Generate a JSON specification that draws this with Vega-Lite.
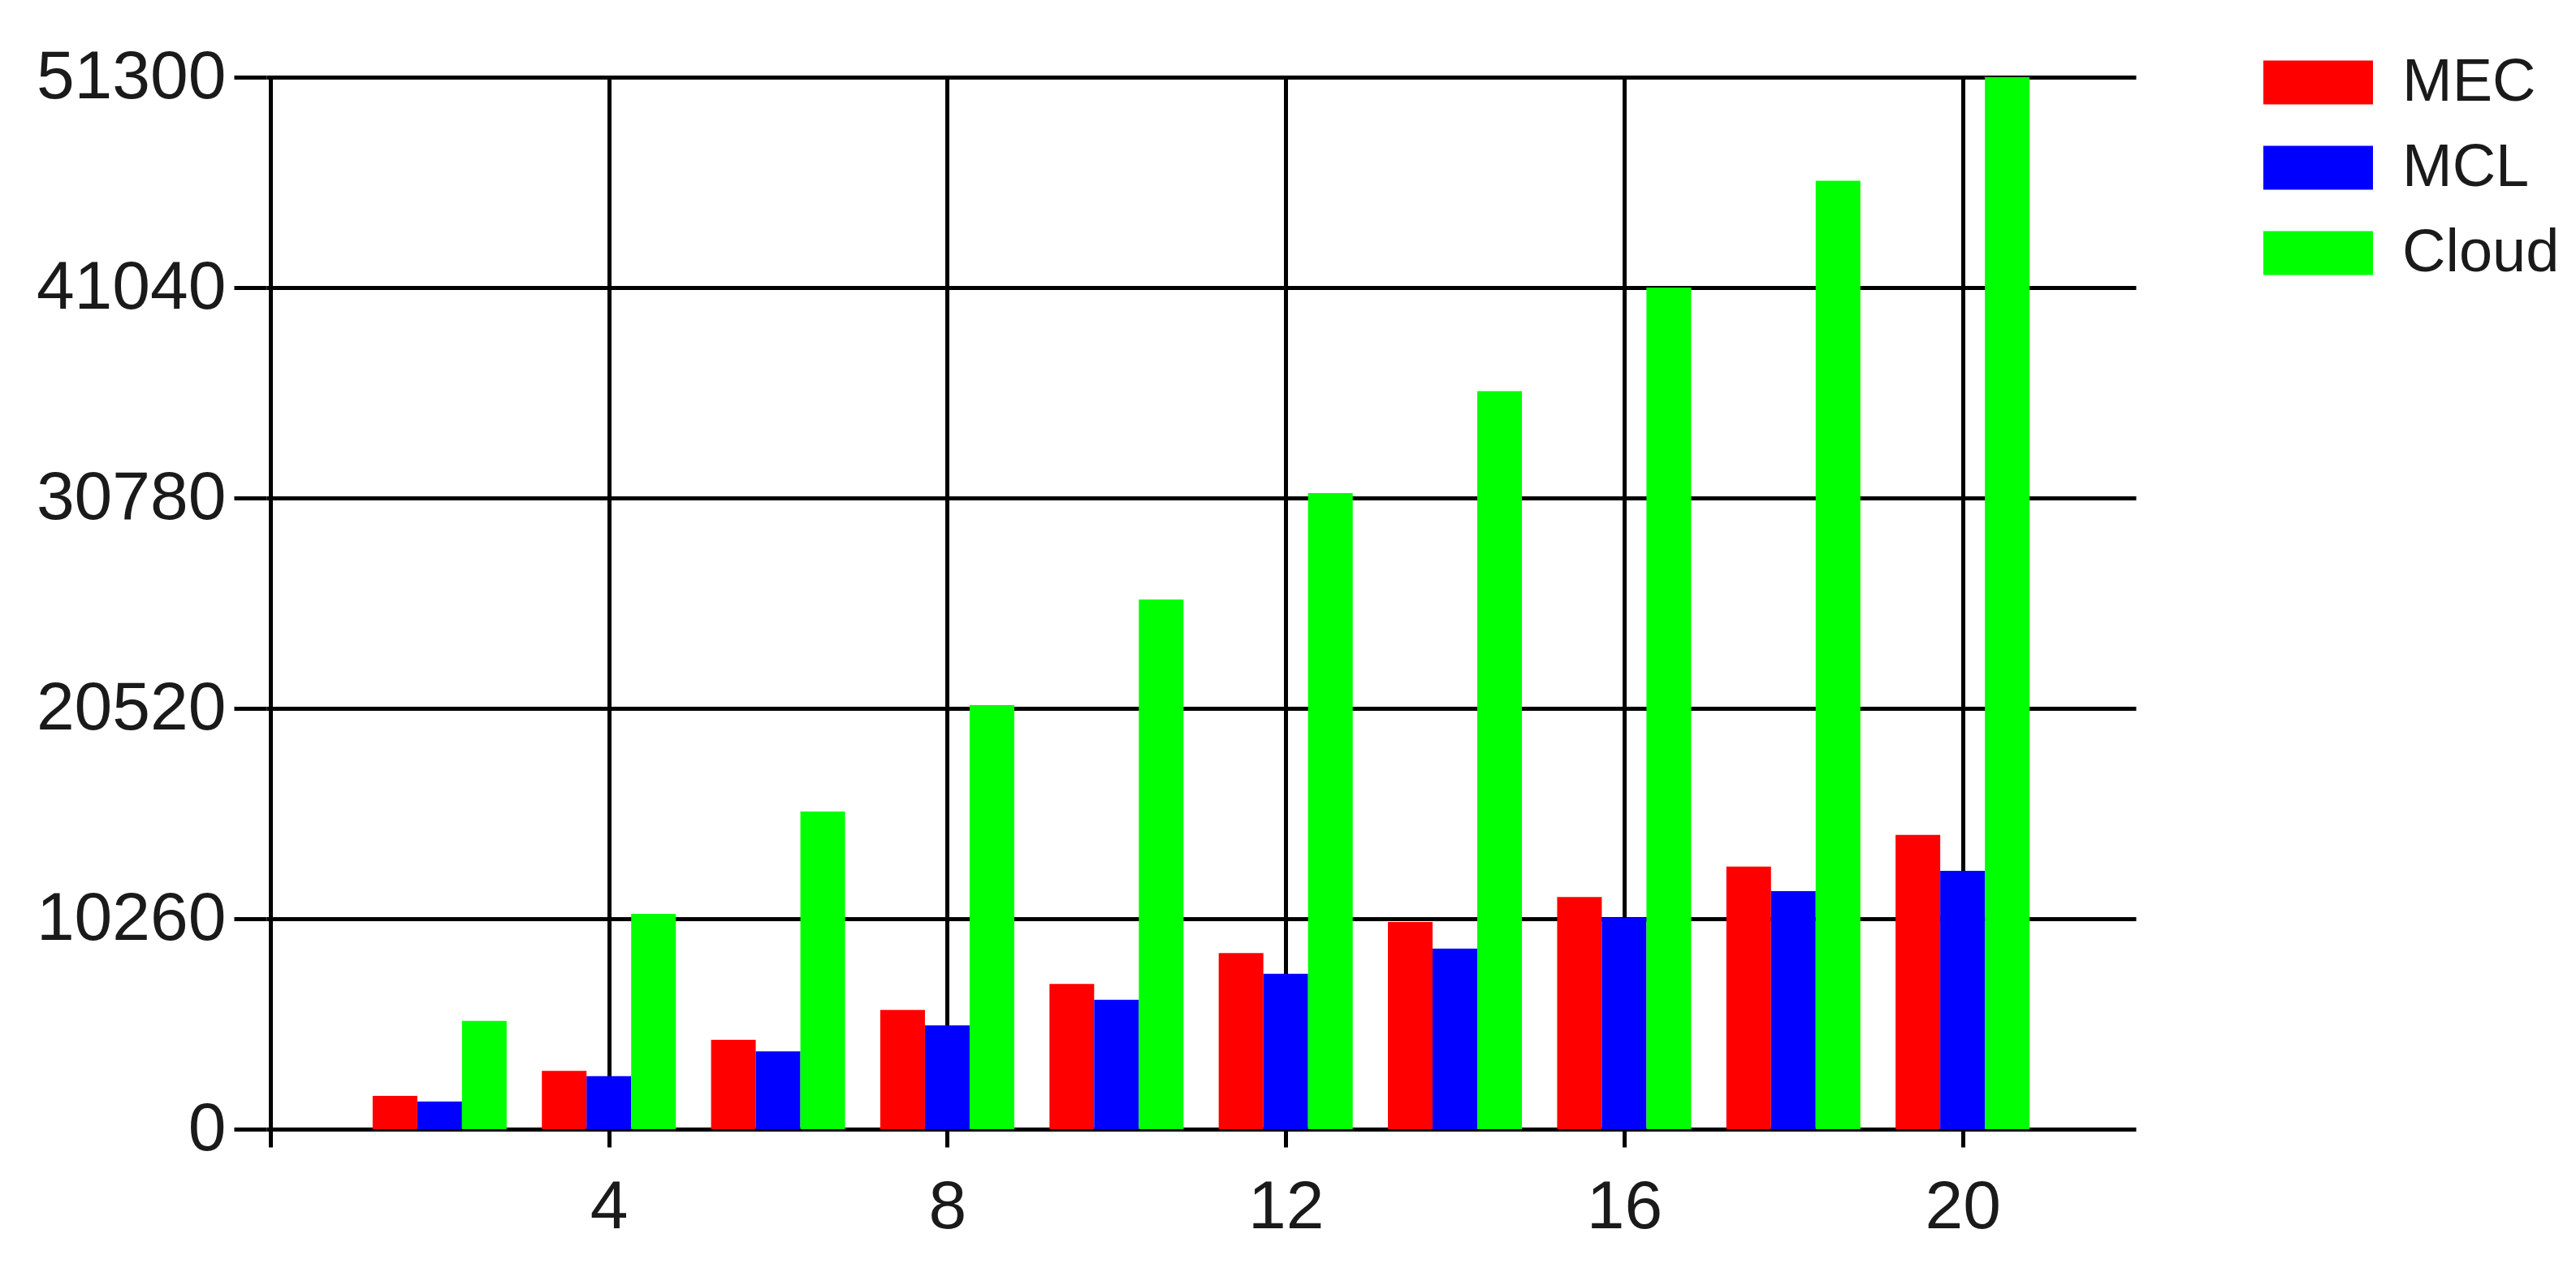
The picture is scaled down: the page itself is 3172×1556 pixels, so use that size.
{
  "$schema": "https://vega.github.io/schema/vega-lite/v6.json",
  "width": 2302,
  "height": 1295,
  "autosize": {"type": "none"},
  "padding": {"left": 328, "top": 95, "right": 542, "bottom": 166},
  "background": "white",
  "config": {
    "view": {"stroke": null},
    "font": "Liberation Sans"
  },
  "data": {
    "values": [
      {"n": 2, "series": "MEC", "value": 1620},
      {"n": 4, "series": "MEC", "value": 2840},
      {"n": 6, "series": "MEC", "value": 4360},
      {"n": 8, "series": "MEC", "value": 5810},
      {"n": 10, "series": "MEC", "value": 7080},
      {"n": 12, "series": "MEC", "value": 8590},
      {"n": 14, "series": "MEC", "value": 10100},
      {"n": 16, "series": "MEC", "value": 11320},
      {"n": 18, "series": "MEC", "value": 12810},
      {"n": 20, "series": "MEC", "value": 14350},
      {"n": 2, "series": "MCL", "value": 1350},
      {"n": 4, "series": "MCL", "value": 2580},
      {"n": 6, "series": "MCL", "value": 3790},
      {"n": 8, "series": "MCL", "value": 5060},
      {"n": 10, "series": "MCL", "value": 6310},
      {"n": 12, "series": "MCL", "value": 7580},
      {"n": 14, "series": "MCL", "value": 8800},
      {"n": 16, "series": "MCL", "value": 10300},
      {"n": 18, "series": "MCL", "value": 11610},
      {"n": 20, "series": "MCL", "value": 12600},
      {"n": 2, "series": "Cloud", "value": 5280},
      {"n": 4, "series": "Cloud", "value": 10500},
      {"n": 6, "series": "Cloud", "value": 15490},
      {"n": 8, "series": "Cloud", "value": 20680},
      {"n": 10, "series": "Cloud", "value": 25830},
      {"n": 12, "series": "Cloud", "value": 31020},
      {"n": 14, "series": "Cloud", "value": 35990},
      {"n": 16, "series": "Cloud", "value": 41040},
      {"n": 18, "series": "Cloud", "value": 46250},
      {"n": 20, "series": "Cloud", "value": 51300}
    ]
  },
  "encoding": {
    "x": {
      "field": "n",
      "type": "quantitative",
      "scale": {"domain": [0, 22], "nice": false, "zero": false},
      "axis": {
        "title": null,
        "values": [0, 4, 8, 12, 16, 20],
        "labelExpr": "datum.value == 0 ? '' : datum.label",
        "grid": true,
        "gridColor": "#000000",
        "gridWidth": 5,
        "gridOpacity": 1,
        "domain": false,
        "ticks": true,
        "tickColor": "#000000",
        "tickWidth": 5,
        "tickSize": 22,
        "labelPadding": 33,
        "labelFontSize": 84,
        "labelFont": "Liberation Sans",
        "labelColor": "#1a1a1a",
        "labelLimit": 0,
        "labelFlush": false,
        "labelOverlap": false
      }
    },
    "y": {
      "field": "value",
      "type": "quantitative",
      "scale": {"domain": [0, 51300], "nice": false},
      "axis": {
        "title": null,
        "values": [0, 10260, 20520, 30780, 41040, 51300],
        "format": "d",
        "grid": true,
        "gridColor": "#000000",
        "gridWidth": 5,
        "gridOpacity": 1,
        "domain": false,
        "ticks": true,
        "tickColor": "#000000",
        "tickWidth": 5,
        "tickSize": 40,
        "labelPadding": 10,
        "labelFontSize": 84,
        "labelFont": "Liberation Sans",
        "labelColor": "#1a1a1a",
        "labelLimit": 0,
        "labelFlush": false,
        "labelOverlap": false
      }
    },
    "color": {
      "field": "series",
      "type": "nominal",
      "scale": {"domain": ["MEC", "MCL", "Cloud"], "range": ["#FF0000", "#0000FF", "#00FF00"]},
      "legend": {
        "title": null,
        "orient": "none",
        "legendX": 2459,
        "legendY": -61,
        "padding": 0,
        "symbolType": "M-1,-0.4H1V0.4H-1Z",
        "symbolSize": 18225,
        "symbolStrokeWidth": 0,
        "symbolOpacity": 1,
        "labelFontSize": 74,
        "labelFont": "Liberation Sans",
        "labelColor": "#1a1a1a",
        "labelLimit": 0,
        "labelOffset": 36,
        "rowPadding": -68
      }
    }
  },
  "layer": [
    {
      "transform": [{"filter": "datum.series == 'MEC'"}],
      "mark": {"type": "bar", "width": 55, "xOffset": -55}
    },
    {
      "transform": [{"filter": "datum.series == 'MCL'"}],
      "mark": {"type": "bar", "width": 55}
    },
    {
      "transform": [{"filter": "datum.series == 'Cloud'"}],
      "mark": {"type": "bar", "width": 55, "xOffset": 55}
    }
  ]
}
